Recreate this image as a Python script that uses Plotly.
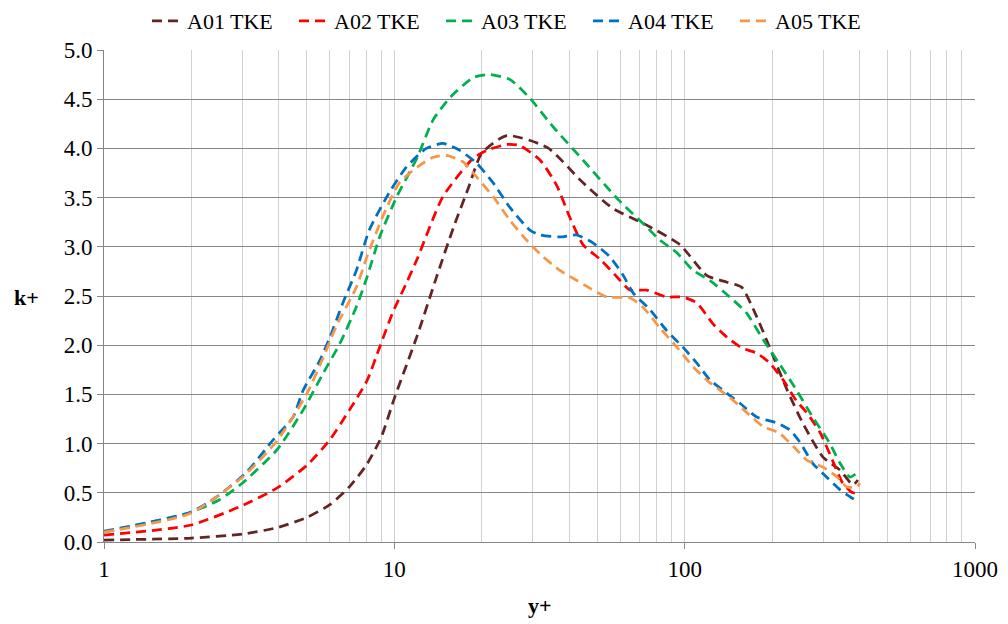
import plotly.graph_objects as go

# ---- data ----
a01_x = [1, 2, 3, 4, 5, 6, 7, 8, 9, 10, 12, 14, 16, 18, 20, 24.4, 33.6, 44.7, 56.6, 74, 96.4, 119, 140, 157, 177, 196, 225, 255, 300, 343, 380, 395]
a01_y = [0.02, 0.04, 0.08, 0.15, 0.25, 0.38, 0.56, 0.78, 1.06, 1.46, 2.1, 2.7, 3.2, 3.6, 3.95, 4.13, 4.01, 3.65, 3.39, 3.22, 3.02, 2.71, 2.64, 2.59, 2.29, 1.98, 1.55, 1.21, 0.86, 0.73, 0.58, 0.63]

a02_x = [1, 1.98, 2.94, 3.95, 5.0, 6.0, 7.0, 8.05, 8.9, 9.9, 11.0, 12.0, 14.7, 18.7, 20.8, 24.4, 27, 31.8, 36.3, 40.2, 44.7, 51.3, 58.6, 64.8, 74, 86.6, 98.6, 110, 125, 140, 158, 177, 196, 218, 242, 264, 293, 323, 350, 380, 401]
a02_y = [0.07, 0.17, 0.36, 0.55, 0.78, 1.04, 1.34, 1.64, 1.98, 2.34, 2.63, 2.88, 3.51, 3.90, 3.98, 4.04, 4.03, 3.88, 3.62, 3.30, 3.02, 2.87, 2.69, 2.56, 2.56, 2.49, 2.49, 2.43, 2.22, 2.08, 1.97, 1.92, 1.82, 1.65, 1.44, 1.31, 1.11, 0.83, 0.60, 0.50, 0.51]

a03_x = [1, 1.98, 2.5, 3.0, 3.95, 4.85, 5.7, 6.5, 7.4, 8.05, 8.9, 10.2, 12, 13.6, 15.6, 18.7, 21.4, 25, 29.3, 35.2, 44.7, 58.6, 74, 82, 94, 107, 122, 143, 163, 187, 211, 242, 276, 315, 343, 371, 392]
a03_y = [0.10, 0.30, 0.43, 0.60, 0.94, 1.34, 1.72, 2.02, 2.39, 2.69, 3.10, 3.51, 3.91, 4.29, 4.52, 4.72, 4.75, 4.70, 4.51, 4.22, 3.88, 3.49, 3.20, 3.07, 2.94, 2.76, 2.66, 2.49, 2.33, 2.05, 1.82, 1.55, 1.27, 1.01, 0.80, 0.66, 0.70]

a04_x = [1, 1.98, 2.45, 3.1, 3.83, 4.48, 4.85, 5.55, 6.0, 6.65, 7.4, 8.2, 9.6, 11.0, 12.9, 14.7, 16.8, 19.2, 21.9, 25, 29.3, 31.8, 37.2, 42.4, 48.3, 55.2, 61.4, 66.5, 76, 86.6, 98.6, 110, 122, 140, 155, 177, 208, 230, 250, 276, 308, 343, 371, 385]
a04_y = [0.11, 0.30, 0.46, 0.71, 1.04, 1.27, 1.54, 1.85, 2.08, 2.43, 2.76, 3.17, 3.55, 3.81, 4.00, 4.05, 3.98, 3.85, 3.65, 3.40, 3.17, 3.12, 3.10, 3.12, 3.04, 2.90, 2.71, 2.53, 2.36, 2.15, 1.98, 1.82, 1.65, 1.51, 1.41, 1.27, 1.21, 1.14, 1.01, 0.80, 0.66, 0.53, 0.46, 0.43]

a05_x = [1, 1.98, 3.0, 3.95, 5.0, 5.7, 6.3, 7.4, 8.05, 9.1, 10.4, 12, 13.6, 15.1, 17.3, 19.2, 21.9, 25, 28.5, 32.5, 37.2, 42.4, 47.1, 53.9, 64.8, 71.6, 82, 94, 107, 122, 143, 163, 187, 211, 237, 264, 300, 335, 362, 392, 401]
a05_y = [0.10, 0.29, 0.66, 1.03, 1.51, 1.88, 2.19, 2.59, 2.90, 3.30, 3.65, 3.81, 3.91, 3.93, 3.86, 3.71, 3.51, 3.27, 3.07, 2.90, 2.76, 2.66, 2.58, 2.49, 2.48, 2.39, 2.18, 1.98, 1.78, 1.62, 1.47, 1.32, 1.17, 1.11, 0.97, 0.83, 0.76, 0.66, 0.56, 0.56, 0.60]

names = ["A01 TKE", "A02 TKE", "A03 TKE", "A04 TKE", "A05 TKE"]
colors = ["#632523", "#ff0000", "#00b050", "#0070c0", "#f79646"]
series = [(a01_x, a01_y), (a02_x, a02_y), (a03_x, a03_y), (a04_x, a04_y), (a05_x, a05_y)]

FONT = "Liberation Serif, Times New Roman, Times, serif"

fig = go.Figure()
for (xs, ys), name, col in zip(series, names, colors):
    fig.add_trace(go.Scatter(
        x=xs, y=ys, name=name, mode="lines",
        line=dict(color=col, width=2.75, dash="10px,6px", shape="spline", smoothing=0.6),
    ))

# page body has an 8px margin: figure spans x 8..1008, y 8..624
OFF = 8
W0, W1, H0, H1 = 104, 975, 50, 542   # absolute plot-area pixels in the screenshot

fig.update_layout(
    width=1008 - OFF, height=624 - OFF,
    margin=dict(l=W0 - OFF, r=1008 - W1, t=H0 - OFF, b=624 - H1, autoexpand=False),
    paper_bgcolor="white", plot_bgcolor="white",
    font=dict(family=FONT, size=22, color="black"),
    showlegend=True,
    legend=dict(orientation="h", x=(147 - W0) / (W1 - W0), xanchor="left",
                y=1 + (H0 - 21) / (H1 - H0), yanchor="middle",
                font=dict(family=FONT, size=22), entrywidth=102, entrywidthmode="pixels",
                tracegroupgap=0, bgcolor="rgba(0,0,0,0)"),
    xaxis=dict(
        type="log", range=[0, 3], tickvals=[1, 10, 100, 1000], ticktext=["1", "10", "100", "1000"],
        showgrid=True, gridcolor="#d0d0d0", gridwidth=1,
        minor=dict(dtick="D1", showgrid=True, gridcolor="#d0d0d0", gridwidth=1, ticks=""),
        showline=True, linecolor="#868686", linewidth=1,
        ticks="outside", ticklen=6, tickcolor="#868686",
        zeroline=False, tickfont=dict(family=FONT, size=23),
    ),
    yaxis=dict(
        range=[0, 5], dtick=0.5, tickformat=".1f",
        showgrid=True, gridcolor="#868686", gridwidth=1,
        showline=True, linecolor="#868686", linewidth=1,
        ticks="outside", ticklen=6, tickcolor="#868686",
        zeroline=False, tickfont=dict(family=FONT, size=23),
    ),
)
ann = []
for text, (px, py) in [("<b>k+</b>", (26, 297)), ("<b>y+</b>", (540, 605))]:
    ann.append(dict(text=text, x=(px - W0) / (W1 - W0), y=(H1 - py) / (H1 - H0),
                    xref="paper", yref="paper", showarrow=False, xanchor="center", yanchor="middle",
                    font=dict(family=FONT, size=22)))
fig.update_layout(annotations=ann)

fig.write_html("out.html")
